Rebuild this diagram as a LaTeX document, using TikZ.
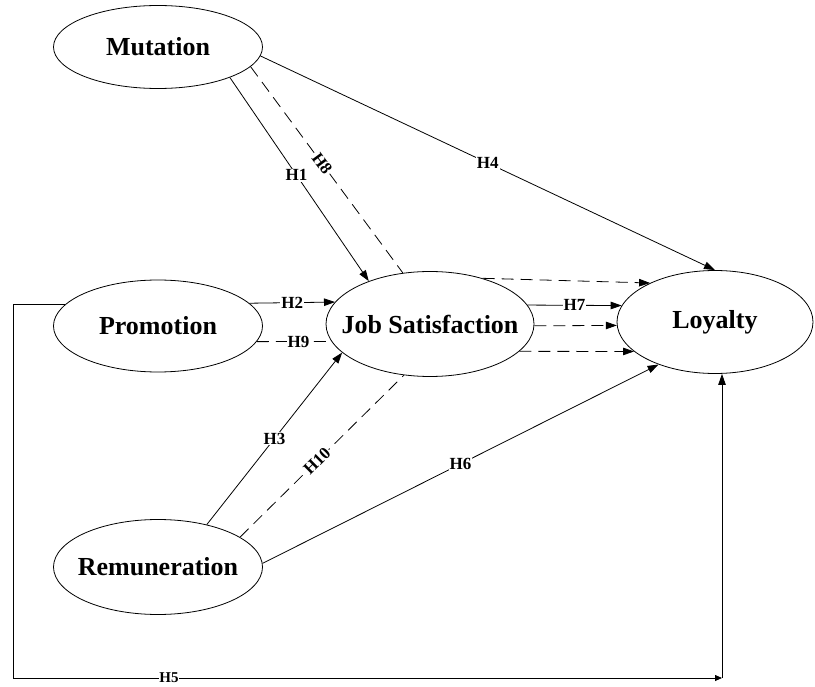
\documentclass[tikz,border=0pt]{standalone}
\usepackage{fontspec}
\setmainfont{Liberation Serif}
\usetikzlibrary{shapes.geometric,arrows.meta}
\begin{document}
\begin{tikzpicture}[x=1pt,y=-1pt,
 ell/.style={draw, ellipse, line width=0.8pt, inner sep=0pt, font=\fontsize{26}{30}\selectfont\bfseries},
 lab/.style={font=\fontsize{17}{20}\selectfont\bfseries, fill=white, inner sep=1pt},
 con/.style={line width=0.8pt},
 arr/.style={con, -{Triangle[length=11pt,width=7.5pt]}},
 dsh/.style={con, dash pattern=on 12pt off 7pt},
 darr/.style={dsh, -{Triangle[length=11pt,width=7.5pt]}},
]
\useasboundingbox (0,0) rectangle (815,687);
\node[ell, minimum width=209pt, minimum height=83pt] (mu) at (158,47) {\makebox[0pt]{Mutation}};
\node[ell, minimum width=209pt, minimum height=92pt] (pr) at (158,326) {\makebox[0pt]{Promotion}};
\node[ell, minimum width=209pt, minimum height=95pt] (re) at (158,567) {\makebox[0pt]{Remuneration}};
\node[ell, minimum width=208pt, minimum height=105pt] (js) at (430,324) {\makebox[0pt]{Job Satisfaction}};
\node[ell, minimum width=196pt, minimum height=103pt] (lo) at (715,322) {\makebox[0pt]{Loyalty}};

\draw[arr] (mu.-23) -- node[lab,pos=.48]{H1} (js.145);
\draw[dsh] (mu.-12) -- node[lab,pos=.47,sloped]{H8} (js.118);
\draw[arr] (mu.-5) -- node[lab,pos=.5]{H4} (lo.90);
\draw[arr] (pr.14) -- node[lab,pos=.5]{H2} (js.167);
\draw[dsh] (pr.-9) -- node[lab,pos=.56]{H9} (js.190);
\draw[arr] (js.11) -- node[lab]{H7} (lo.170);
\draw[darr] (js.41) -- (lo.149);
\draw[darr] (js.-1) -- (lo.182);
\draw[darr] (js.-17) -- (lo.200);
\draw[arr] (re.41) -- node[lab]{H3} (js.198);
\draw[dsh] (re.20) -- node[lab,pos=.47,sloped]{H10} (js.243);
\draw[arr] (re.2) -- node[lab]{H6} (lo.217);
\coordinate (cr) at (722,678);
\draw[con, -{Triangle[length=7pt,width=6pt]}] (pr.167) -- ++(-52,0) |- node[lab,pos=.61,font=\fontsize{15}{17}\selectfont\bfseries,inner sep=0.5pt]{H5} (cr);
\draw[arr] (cr) -- (cr |- lo.south);
\end{tikzpicture}
\end{document}
